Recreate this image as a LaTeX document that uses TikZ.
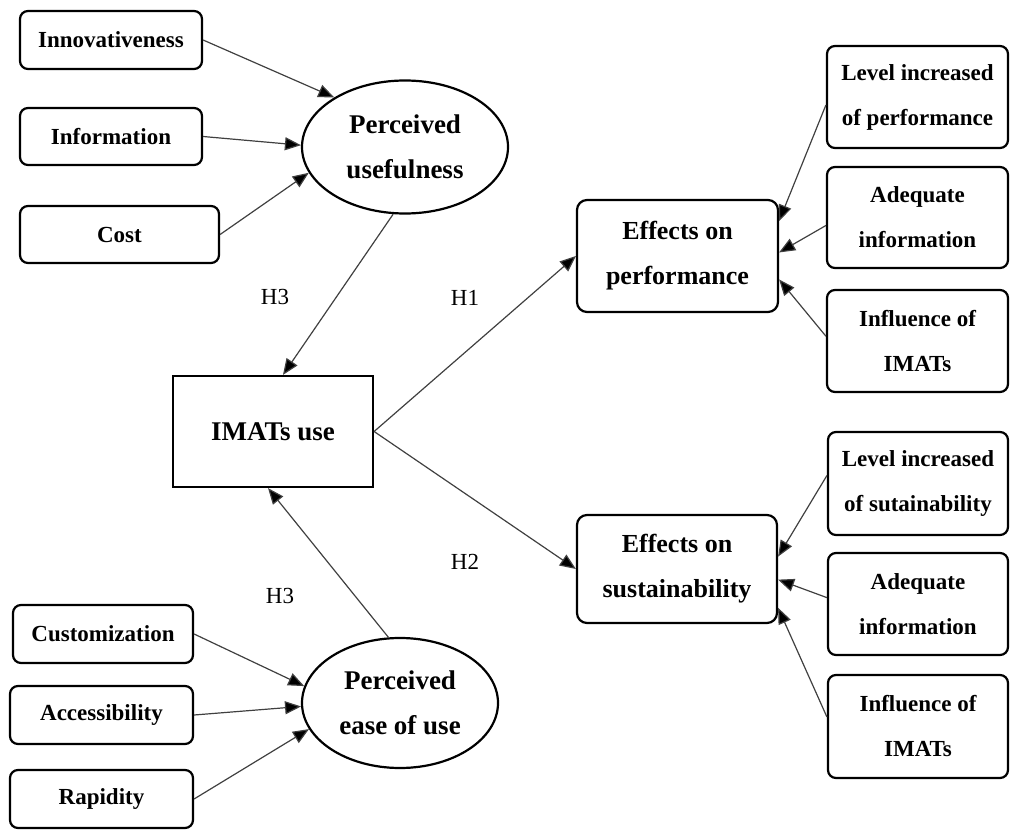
\documentclass[tikz,border=0pt]{standalone}
\usepackage{fontspec}
\setmainfont{Liberation Serif}
\usetikzlibrary{shapes.geometric,arrows.meta}
\begin{document}
\begin{tikzpicture}[x=1pt,y=-1pt,
  factor/.style={draw,line width=2.2pt,rounded corners=8pt,align=center,inner sep=0pt,
    font=\fontsize{23}{45}\selectfont\bfseries},
  construct/.style={draw,line width=2.2pt,rounded corners=10pt,align=center,inner sep=0pt,
    font=\fontsize{26}{45}\selectfont\bfseries},
  latent/.style={draw,ellipse,line width=2.2pt,align=center,inner sep=0pt,
    font=\fontsize{27}{45}\selectfont\bfseries},
  usebox/.style={draw,line width=2.2pt,align=center,inner sep=0pt,
    font=\fontsize{27}{30}\selectfont\bfseries},
  hyp/.style={font=\fontsize{23}{28}\selectfont},
  link/.style={draw=black!75,line width=1.2pt,-{Triangle[length=16pt,width=13pt,fill=black]}}]
\useasboundingbox (0,0) rectangle (1010,834);

% left-hand determinants
\node[factor,minimum width=182pt,minimum height=58pt] (inn)  at (111,40)    {Innovativeness};
\node[factor,minimum width=182pt,minimum height=57pt] (info) at (111,136.5) {Information};
\node[factor,minimum width=199pt,minimum height=57pt] (cost) at (119.5,234.5) {Cost};
\node[factor,minimum width=180pt,minimum height=58pt] (cust) at (103,634)   {Customization};
\node[factor,minimum width=183pt,minimum height=58pt] (acc)  at (101.5,715) {Accessibility};
\node[factor,minimum width=183pt,minimum height=58pt] (rap)  at (101.5,799) {Rapidity};

% latent constructs
\node[latent,minimum width=206pt,minimum height=133pt] (pu)   at (405,147) {Perceived\\usefulness};
\node[latent,minimum width=196pt,minimum height=130pt] (peou) at (400,703) {Perceived\\ease of use};

% central use construct
\node[usebox,minimum width=200pt,minimum height=111pt] (imats) at (273,431.5) {IMATs use};

% outcomes
\node[construct,minimum width=201pt,minimum height=112pt] (eop) at (677.5,256) {Effects on\\performance};
\node[construct,minimum width=200pt,minimum height=108pt] (eos) at (677,569)   {Effects on\\sustainability};

% outcome indicators
\node[factor,minimum width=181pt,minimum height=102pt] (lp)  at (917.5,97)    {Level increased\\of performance};
\node[factor,minimum width=181pt,minimum height=101pt] (ap)  at (917.5,217.5) {Adequate\\information};
\node[factor,minimum width=181pt,minimum height=102pt] (ip)  at (917.5,341)   {Influence of\\IMATs};
\node[factor,minimum width=180pt,minimum height=103pt] (ls)  at (918,483.5)   {Level increased\\of sutainability};
\node[factor,minimum width=180pt,minimum height=102pt] (as)  at (918,604)     {Adequate\\information};
\node[factor,minimum width=180pt,minimum height=103pt] (is)  at (918,726.5)   {Influence of\\IMATs};

% hypothesis labels
\node[hyp] (h3a) at (275,297) {H3};
\node[hyp] (h1)  at (465,298) {H1};
\node[hyp] (h2)  at (465,562) {H2};
\node[hyp] (h3b) at (280,596) {H3};

% paths into the latent constructs
\draw[link] (inn.east)  -- (pu.145);
\draw[link] (info.east) -- (pu.179);
\draw[link] (cost.east) -- (pu.195);
\draw[link] (cust.east) -- (peou.170);
\draw[link] (acc.east)  -- (peou.182);
\draw[link] (rap.east)  -- (peou.196);

% structural paths
\draw[link] (pu.260)   -- (imats.80);
\draw[link] (peou.100) -- (imats.265);
\draw[link] (imats.east) -- (eop.west);
\draw[link] (imats.east) -- (eos.west);

% indicators of the outcomes
\draw[link] (lp.185) -- (eop.19);
\draw[link] (ap.185) -- (eop.2);
\draw[link] (ip.177) -- (eop.-13);
\draw[link] (ls.175) -- (eos.7);
\draw[link] (as.176) -- (eos.-6);
\draw[link] (is.174) -- (eos.-21);
\end{tikzpicture}
\end{document}
